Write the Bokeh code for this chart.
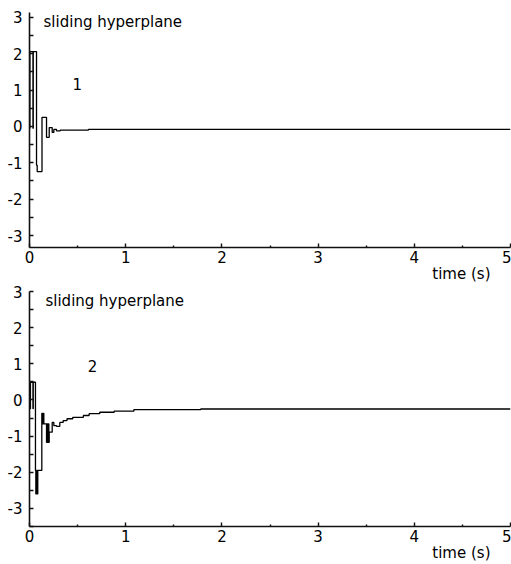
from bokeh.plotting import figure
from bokeh.layouts import column
from bokeh.models import Label, Range1d, FixedTicker, Title
from bokeh.embed import file_html
from bokeh.resources import INLINE

# ---- data ----
x_ticks = [0, 1, 2, 3, 4, 5]
x_minor = [0.5, 1.5, 2.5, 3.5, 4.5]
y_ticks = [-3, -2, -1, 0, 1, 2, 3]
y_tick_labels = ["-3", "-2", "-1", "0", "1", "2", "3"]
y_minor = [-3.5, -2.5, -1.5, -0.5, 0.5, 1.5, 2.5]

# sliding hyperplane 1 (zero-order hold samples)
t1 = [0.0, 0.004, 0.036, 0.039, 0.073, 0.080, 0.130, 0.177, 0.205, 0.236,
      0.253, 0.280, 0.320, 0.613, 5.0]
s1 = [-0.05, 2.06, -0.05, 2.06, -1.07, -1.24, 0.25, -0.30, -0.03, -0.165,
      -0.08, -0.12, -0.10, -0.08, -0.08]

# sliding hyperplane 2
t2 = [0.0, 0.010, 0.036, 0.039, 0.062, 0.066, 0.070, 0.074, 0.078, 0.082,
      0.086, 0.128, 0.132, 0.136, 0.140, 0.144, 0.149, 0.177, 0.181, 0.185,
      0.189, 0.193, 0.197, 0.201, 0.205, 0.236, 0.253, 0.281, 0.315, 0.350,
      0.390, 0.450, 0.560, 0.620, 0.730, 0.880, 1.085, 1.780, 5.0]
s2 = [-0.24, 0.49, -0.24, 0.49, -1.95, -2.60, -1.95, -2.60, -1.95, -2.60,
      -1.95, -0.37, -0.66, -0.37, -0.66, -0.37, -0.66, -1.17, -0.66, -1.17,
      -0.66, -1.17, -0.66, -1.17, -0.89, -0.62, -0.71, -0.73, -0.62, -0.57,
      -0.52, -0.48, -0.43, -0.38, -0.34, -0.31, -0.27, -0.25, -0.25]

panel_title = "sliding hyperplane"
x_label = "time (s)"
panel_tags = ["1", "2"]

FONT = "DejaVu Sans"


def make_panel(t, s, yr, tag, height, btop, bbot, title_xy, tag_xy):
    p = figure(width=511, height=height, output_backend="svg",
               toolbar_location=None,
               x_range=Range1d(0, 5), y_range=Range1d(*yr),
               min_border_left=29, min_border_right=1,
               min_border_top=btop, min_border_bottom=bbot)
    p.outline_line_color = None
    p.xgrid.visible = False
    p.ygrid.visible = False
    p.background_fill_color = "white"
    p.border_fill_color = "white"

    p.xaxis.ticker = FixedTicker(ticks=x_ticks, minor_ticks=x_minor)
    p.yaxis.ticker = FixedTicker(ticks=y_ticks, minor_ticks=y_minor)
    p.yaxis.major_label_overrides = {v: lab for v, lab in zip(y_ticks, y_tick_labels)}
    for ax in (p.xaxis[0], p.yaxis[0]):
        ax.axis_line_color = "#111111"
        ax.axis_line_width = 1.6
        ax.major_tick_line_color = "#111111"
        ax.minor_tick_line_color = "#111111"
        ax.major_tick_line_width = 1.4
        ax.minor_tick_line_width = 1.4
        ax.major_tick_out = 0
        ax.minor_tick_out = 0
        ax.major_label_text_font = FONT
        ax.major_label_text_font_size = "15px"
        ax.major_label_text_color = "black"
    p.xaxis.major_tick_in = 4
    p.xaxis.minor_tick_in = 2
    p.yaxis.major_tick_in = 4
    p.yaxis.minor_tick_in = 4
    p.xaxis.major_label_standoff = 3
    p.yaxis.major_label_standoff = 7

    p.step(x=t, y=s, mode="after", line_color="black", line_width=1.3)

    p.add_layout(Label(x=title_xy[0], y=title_xy[1], text=panel_title,
                       text_font=FONT, text_font_size="15px",
                       text_align="left", text_baseline="middle",
                       text_color="black"))
    p.add_layout(Label(x=tag_xy[0], y=tag_xy[1], text=tag,
                       text_font=FONT, text_font_size="15px",
                       text_align="center", text_baseline="middle",
                       text_color="black"))
    p.add_layout(Title(text=x_label, align="right", offset=20,
                       vertical_align="top", standoff=-1,
                       text_font=FONT, text_font_size="15px",
                       text_font_style="normal", text_color="black"),
                 "below")
    return p


p1 = make_panel(t1, s1, (-3.33, 3.135), panel_tags[0], 285, 12, 38,
                (0.146, 2.86), (0.496, 1.155))
p2 = make_panel(t2, s2, (-3.5, 3.0), panel_tags[1], 279, 6, 38,
                (0.166, 2.74), (0.655, 0.93))

layout = column(p1, p2, spacing=0)

open("out.html", "w").write(file_html(layout, INLINE))
